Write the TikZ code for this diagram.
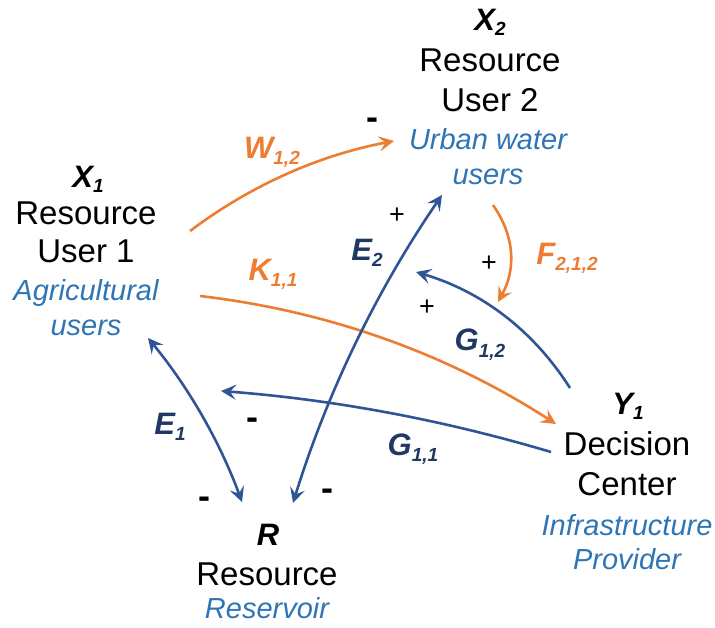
\documentclass[tikz,border=0pt]{standalone}
\usepackage{fontspec}
\setmainfont{Liberation Sans}
\usetikzlibrary{arrows.meta}
\definecolor{orng}{HTML}{ED7D31}
\definecolor{lblue}{HTML}{2F5597}
\definecolor{nblue}{HTML}{203864}
\definecolor{tblue}{HTML}{2E75B6}
\newcommand{\sbl}[2]{#1\raisebox{-6pt}{\fontsize{19}{19}\selectfont #2}}
\newcommand{\nsbl}[2]{#1\raisebox{-5pt}{\fontsize{19}{19}\selectfont #2}}
\begin{document}
\begin{tikzpicture}[x=1pt,y=-1pt,
  every node/.style={inner sep=0pt, anchor=base},
  maintxt/.style={font=\fontsize{33}{33}\selectfont},
  subtxt/.style={font=\fontsize{29}{29}\selectfont\itshape, text=tblue},
  nodelbl/.style={font=\fontsize{31}{31}\selectfont\bfseries\itshape},
  olbl/.style={font=\fontsize{31}{31}\selectfont\bfseries\itshape, text=orng},
  blbl/.style={font=\fontsize{31}{31}\selectfont\bfseries\itshape, text=nblue},
  sgn/.style={font=\fontsize{27}{27}\selectfont},
  msgn/.style={font=\fontsize{36}{36}\selectfont\bfseries},
  oarr/.style={draw=orng, line width=2.6pt, -{Stealth[length=15pt,width=15pt,inset=6pt]}},
  barr/.style={draw=lblue, line width=2.6pt, -{Stealth[length=15pt,width=15pt,inset=6pt]}},
  bbarr/.style={draw=lblue, line width=2.6pt, {Stealth[length=15pt,width=15pt,inset=6pt]}-{Stealth[length=15pt,width=15pt,inset=6pt]}}
]
\useasboundingbox (0,0) rectangle (715,628);

% X2 block
\node[nodelbl] (x2l) at (490,31) {\nsbl{X}{2}};
\node[maintxt] (x2a) at (490,72) {Resource};
\node[maintxt] (x2b) at (490,112) {User 2};
\node[subtxt] (x2c) at (488,150) {Urban water};
\node[subtxt] (x2d) at (488,185) {users};

% X1 block
\node[nodelbl] (x1l) at (88,188) {\nsbl{X}{1}};
\node[maintxt] (x1a) at (86,225) {Resource};
\node[maintxt] (x1b) at (86,263) {User 1};
\node[subtxt] (x1c) at (86,301) {Agricultural};
\node[subtxt] (x1d) at (86,336) {users};

% Y1 block
\node[nodelbl] (y1l) at (628,414) {\nsbl{Y}{1}};
\node[maintxt] (y1a) at (627,455) {Decision};
\node[maintxt] (y1b) at (627,495) {Center};
\node[subtxt] (y1c) at (627,535) {Infrastructure};
\node[subtxt] (y1d) at (627,569) {Provider};

% R block
\node[nodelbl] (rl) at (268,545) {R};
\node[maintxt] (ra) at (267,585) {Resource};
\node[subtxt] (rb) at (267,618) {Reservoir};

% connector endpoints
\coordinate (wA) at (190,231); \coordinate (wB) at (394,141);
\coordinate (kA) at (200,296); \coordinate (kB) at (556,424);
\coordinate (e2A) at (293,503); \coordinate (e2B) at (442,195);
\coordinate (fA) at (493,205); \coordinate (fB) at (498,302);
\coordinate (gA) at (570,388); \coordinate (gB) at (416,272);
\coordinate (hA) at (551,452); \coordinate (hB) at (221,391);
\coordinate (e1A) at (148,338); \coordinate (e1B) at (242,502);

\draw[oarr] (wA) .. controls (251.0,185.2) and (319.0,155.2) .. (wB);
\draw[oarr] (kA) .. controls (328.6,311.1) and (447.2,353.7) .. (kB);
\draw[oarr] (fA) .. controls (514.7,236.3) and (516.3,268.7) .. (fB);
\draw[bbarr] (e2A) .. controls (327.1,392.8) and (376.7,290.2) .. (e2B);
\draw[barr] (gA) .. controls (533.1,330.1) and (481.7,291.5) .. (gB);
\draw[barr] (hA) .. controls (443.2,419.9) and (333.2,399.5) .. (hB);
\draw[bbarr] (e1A) .. controls (188.6,387.4) and (220,442) .. (e1B);

% edge labels
\node[olbl] (lw) at (272,159) {\sbl{W}{1,2}};
\node[olbl] (lk) at (273,281) {\sbl{K}{1,1}};
\node[olbl] (lf) at (567,265) {\sbl{F}{2,1,2}};
\node[blbl] (le2) at (367,261) {\sbl{E}{2}};
\node[blbl] (lg12) at (480,351) {\sbl{G}{1,2}};
\node[blbl] (lg11) at (413,455) {\sbl{G}{1,1}};
\node[blbl] (le1) at (170,434) {\sbl{E}{1}};

% signs
\node[msgn] (s1) at (372,130) {-};
\node[sgn] (s2) at (397,224) {+};
\node[sgn] (s3) at (489,272) {+};
\node[sgn] (s4) at (427,316) {+};
\node[msgn] (s5) at (252,429) {-};
\node[msgn] (s6) at (204,508) {-};
\node[msgn] (s7) at (327,500) {-};
\end{tikzpicture}
\end{document}
